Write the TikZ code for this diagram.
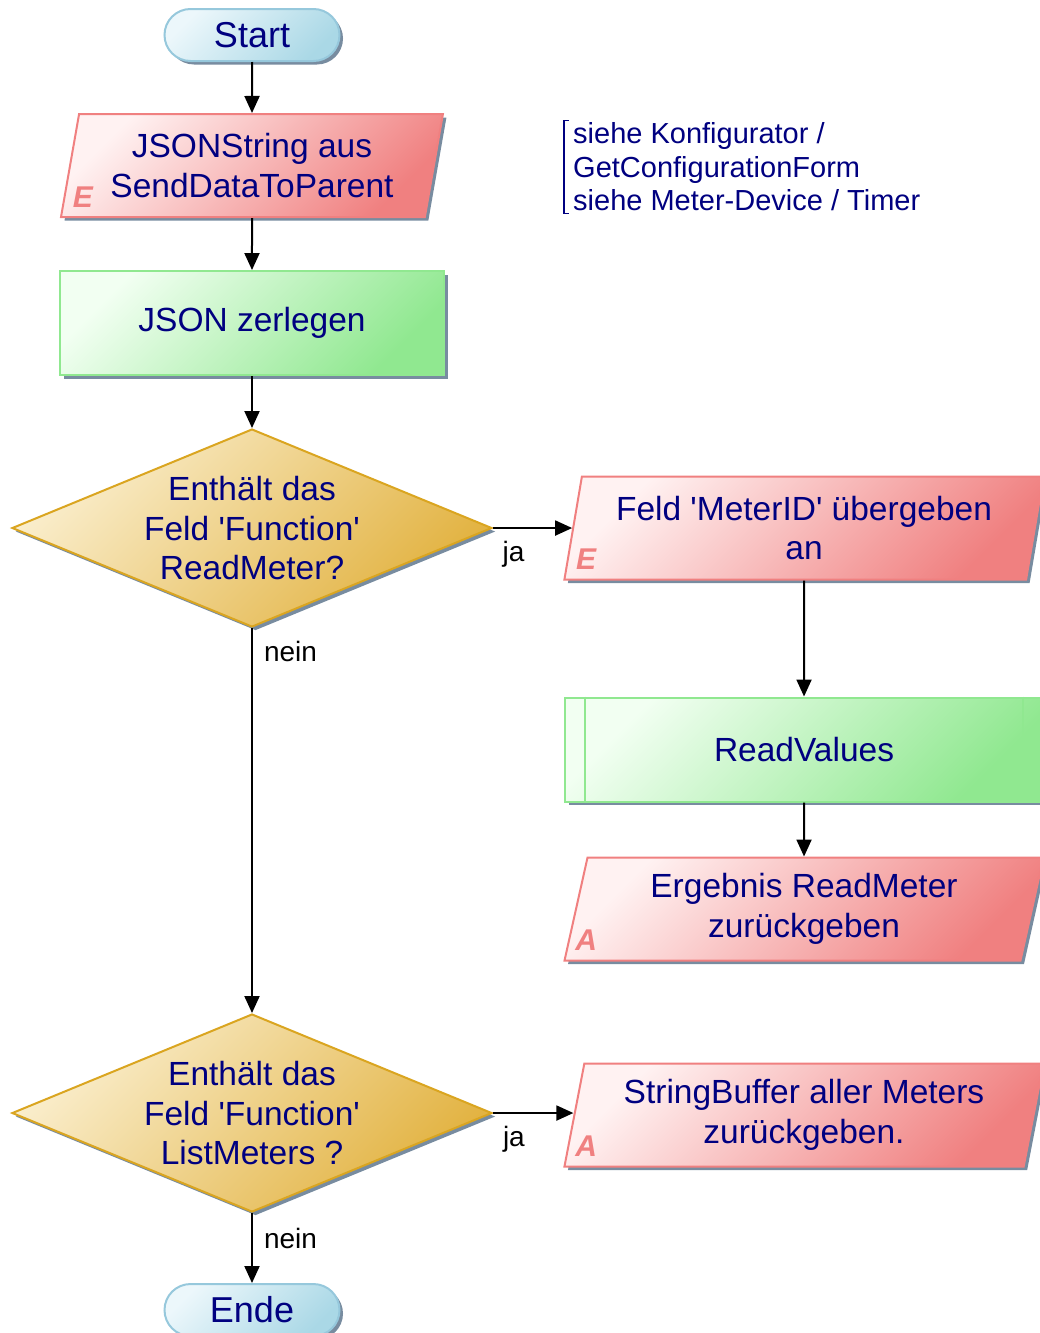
\documentclass[tikz,border=0pt]{standalone}
\usepackage{fontspec}
\setmainfont{Liberation Sans}
\usetikzlibrary{arrows.meta,positioning,shapes.geometric,shapes.misc,shadows}

\definecolor{txtblue}{RGB}{0,0,128}
\definecolor{ioborder}{RGB}{240,128,128}
\definecolor{iolight}{RGB}{255,242,242}
\definecolor{iodark}{RGB}{240,128,128}
\definecolor{prborder}{RGB}{144,232,144}
\definecolor{prlight}{RGB}{242,255,242}
\definecolor{prdark}{RGB}{144,232,144}
\definecolor{decborder}{RGB}{218,165,32}
\definecolor{declight}{RGB}{250,238,205}
\definecolor{decdark}{RGB}{226,178,64}
\definecolor{termborder}{RGB}{150,200,220}
\definecolor{termlight}{RGB}{236,247,251}
\definecolor{termdark}{RGB}{170,216,230}
\definecolor{shadowgray}{RGB}{120,140,160}

\newcommand{\squote}{\textquotesingle}

\begin{document}
\begin{tikzpicture}[x=1pt,y=-1pt,>={Triangle[length=17pt,width=15pt]},node distance=51pt,
    base/.style={draw,line width=2pt,text=txtblue,align=center,inner sep=0pt,
      font=\fontsize{33.5}{39.5}\selectfont,
      drop shadow={shadow xshift=3.5pt,shadow yshift=-3.5pt,opacity=1,fill=shadowgray}},
    term/.style={base,rounded rectangle,draw=termborder,top color=termlight,bottom color=termdark,
      shading angle=45,minimum width=175pt,minimum height=52pt,font=\fontsize{36}{40}\selectfont},
    io/.style={base,trapezium,trapezium left angle=77,trapezium right angle=103,
      trapezium stretches,draw=ioborder,top color=iolight,bottom color=iodark,
      shading angle=45,minimum height=103pt},
    proc/.style={base,rectangle,draw=prborder,top color=prlight,bottom color=prdark,
      shading angle=45,minimum height=104pt},
    dec/.style={base,diamond,aspect=2.4,draw=decborder,top color=declight,bottom color=decdark,
      shading angle=45,minimum width=480pt,minimum height=198pt},
    iotag/.style={text=iodark,inner sep=0pt,font=\fontsize{30}{30}\selectfont\bfseries\itshape},
    lbl/.style={text=black,inner sep=0pt,font=\fontsize{28}{30}\selectfont},
    note/.style={text=txtblue,align=left,inner xsep=0pt,inner ysep=2pt,font=\fontsize{29}{33.5}\selectfont}]

  \useasboundingbox (0,0) rectangle (1039,1333);
  \coordinate (rcol) at (804,0);

  % left column
  \node[term] (start) at (252,35) {Start};
  \node[io,minimum width=383pt,below=of start] (jstr) {JSONString aus\\SendDataToParent};
  \node[iotag] at ([xshift=23pt,yshift=21pt]jstr.bottom left corner) {E};
  \node[proc,minimum width=384pt,below=52pt of jstr] (split) {JSON zerlegen};
  \node[dec,below=52pt of split] (qread) {Enthält das\\Feld \squote Function\squote\\ReadMeter?};
  \node[dec,below=385pt of qread] (qlist) {Enthält das\\Feld \squote Function\squote\\ListMeters ?};
  \node[term,below=70pt of qlist] (stop) {Ende};

  % right column
  \node[io,minimum width=481pt] (meterid) at (qread -| rcol) {Feld \squote MeterID\squote\ übergeben\\an};
  \node[iotag] at ([xshift=23pt,yshift=21pt]meterid.bottom left corner) {E};
  \node[proc,minimum width=478pt,below=116pt of meterid] (readval) {ReadValues};
  \draw[prborder,line width=2pt] ([xshift=21pt]readval.north west) -- ([xshift=21pt]readval.south west);
  \draw[prborder,line width=2pt] ([xshift=-21pt]readval.north east) -- ([xshift=-21pt]readval.south east);
  \node[io,minimum width=481pt,below=52pt of readval,yshift=-2pt] (result) {Ergebnis ReadMeter\\zurückgeben};
  \node[iotag] at ([xshift=23pt,yshift=21pt]result.bottom left corner) {A};
  \node[io,minimum width=481pt,yshift=-2pt] (buffer) at (qlist -| rcol) {StringBuffer aller Meters\\zurückgeben.};
  \node[iotag] at ([xshift=23pt,yshift=21pt]buffer.bottom left corner) {A};

  % comment
  \node[note,anchor=west] (hint) at (573,167) {siehe Konfigurator /\\GetConfigurationForm\\siehe Meter-Device / Timer};
  \draw[txtblue,line width=1.5pt] ([xshift=-4pt]hint.north west) -| ([xshift=-9pt]hint.south west)
    -- ([xshift=-4pt]hint.south west);

  \path[->,line width=2pt]
    (start) edge (jstr)
    (jstr) edge (split)
    (split) edge (qread)
    (qread) edge node[lbl,pos=0.26,anchor=north,yshift=-12pt] {ja} (meterid)
    (qread) edge node[lbl,pos=0.062,anchor=west,xshift=11pt] {nein} (qlist)
    (meterid) edge (readval)
    (readval) edge (result)
    (qlist.east) edge node[lbl,pos=0.26,anchor=north,yshift=-12pt] {ja} (qlist.east -| buffer.west)
    (qlist) edge node[lbl,pos=0.36,anchor=west,xshift=11pt] {nein} (stop);
\end{tikzpicture}
\end{document}
